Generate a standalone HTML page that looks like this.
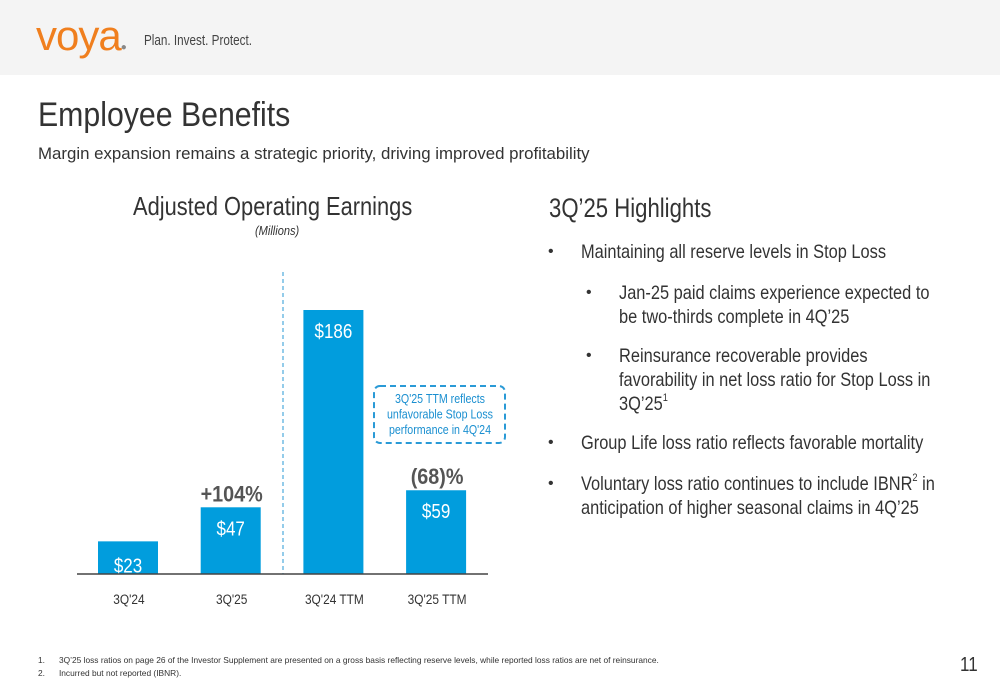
<!DOCTYPE html>
<html><head><meta charset="utf-8"><style>
body{margin:0;width:1000px;height:685px;background:#fff;font-family:"Liberation Sans",sans-serif;position:relative;overflow:hidden;color:#222}
.a{position:absolute;white-space:nowrap;transform-origin:0 0}
.hdr{position:absolute;left:0;top:0;width:1000px;height:75px;background:#f4f4f4}
.b{position:absolute;font-size:19.5px;line-height:24px;color:#333;white-space:nowrap;transform:scaleX(.84);transform-origin:0 0}
.d{position:absolute;font-size:16px;color:#333}
sup{font-size:11px;line-height:0;position:relative;top:-2px}
</style></head><body>
<div class="hdr"></div>
<div class="a" style="left:36px;top:12px;font-size:42px;color:#f07f1e;letter-spacing:-1px">voya<span style="font-size:10px;color:#888">●</span></div>
<div class="a" style="left:144px;top:32px;font-size:15px;color:#444;transform:scaleX(.78)">Plan. Invest. Protect.</div>
<div class="a" style="left:38px;top:96px;font-size:34px;color:#333;transform:scaleX(.89)">Employee Benefits</div>
<div class="a" style="left:38px;top:144px;font-size:17px;color:#333;transform:scaleX(.99)">Margin expansion remains a strategic priority, driving improved profitability</div>
<div class="a" style="left:133px;top:191px;font-size:26px;color:#333;transform:scaleX(.84)">Adjusted Operating Earnings</div>
<div class="a" style="left:255px;top:223px;font-size:13px;font-style:italic;color:#333;transform:scaleX(.85)">(Millions)</div>
<svg id="chart" class="a" style="left:0;top:0" width="520" height="620"></svg>
<div class="a" style="left:549px;top:193px;font-size:27px;color:#333;transform:scaleX(.82)">3Q’25 Highlights</div>
<div class="d" style="left:548px;top:243px">•</div>
<div class="d" style="left:586px;top:284px">•</div>
<div class="d" style="left:586px;top:347px">•</div>
<div class="d" style="left:548px;top:434px">•</div>
<div class="d" style="left:548px;top:475px">•</div>
<div class="b" style="left:581px;top:240px">Maintaining all reserve levels in Stop Loss</div>
<div class="b" style="left:619px;top:281px">Jan-25 paid claims experience expected to<br>be two-thirds complete in 4Q’25</div>
<div class="b" style="left:619px;top:344px">Reinsurance recoverable provides<br>favorability in net loss ratio for Stop Loss in<br>3Q’25<sup>1</sup></div>
<div class="b" style="left:581px;top:431px">Group Life loss ratio reflects favorable mortality</div>
<div class="b" style="left:581px;top:472px">Voluntary loss ratio continues to include IBNR<sup>2</sup> in<br>anticipation of higher seasonal claims in 4Q’25</div>
<div class="a" style="left:38px;top:655px;font-size:8.5px;color:#333;transform:scaleX(.985)">1.&nbsp;&nbsp;&nbsp;&nbsp;&nbsp;&nbsp;3Q’25 loss ratios on page 26 of the Investor Supplement are presented on a gross basis reflecting reserve levels, while reported loss ratios are net of reinsurance.</div>
<div class="a" style="left:38px;top:668px;font-size:8.5px;color:#333;transform:scaleX(.985)">2.&nbsp;&nbsp;&nbsp;&nbsp;&nbsp;&nbsp;Incurred but not reported (IBNR).</div>
<div class="a" style="left:960px;top:654px;font-size:20px;color:#333;transform:scaleX(.85)">11</div>
<script>
const categories=["3Q'24","3Q'25","3Q'24 TTM","3Q'25 TTM"];
const values=[23,47,186,59];
const valueLabels=["$23","$47","$186","$59"];
const changeLabels=["","+104%","","(68)%"];
const svg=document.getElementById('chart');
const NS='http://www.w3.org/2000/svg';
const base=574,scale=264/186;
const x=i=>98+i*102.7;
const y=v=>base-v*scale;
function mk(t,a){const e=document.createElementNS(NS,t);for(const k in a)e.setAttribute(k,a[k]);svg.appendChild(e);return e;}
function txt(s,cx,cy,a,sx){const t=mk('text',Object.assign({x:cx/sx,y:cy,'text-anchor':'middle','font-family':'Liberation Sans',transform:'scale('+sx+',1)'},a));t.textContent=s;return t;}
const sep=mk('line',{x1:283,y1:272,x2:283,y2:574,stroke:'#2a9ad6','stroke-dasharray':'4,3','stroke-width':1});

values.forEach((v,i)=>{
 const r=mk('rect',{x:x(i),y:y(v),width:60,height:base-y(v),fill:'#019ddd'});
 
 const ty=i==0?y(v)+31:y(v)+28;
 const t=txt(valueLabels[i],x(i)+30,ty,{'font-size':20,fill:'#fff'},.85);
 
 const c=txt(categories[i],x(i)+31,604,{'font-size':14,fill:'#333'},.85);
 
 if(changeLabels[i]){const p=txt(changeLabels[i],x(i)+31,y(v)-6,{'font-size':22,'font-weight':'bold',fill:'#555'},.9);
 }
});
const ax=mk('line',{x1:77,y1:574,x2:488,y2:574,stroke:'#444','stroke-width':1.5});

const box=mk('rect',{x:374,y:386,width:131,height:57,rx:6,fill:'none',stroke:'#2a9ad6','stroke-width':2,'stroke-dasharray':'6,4'});

["3Q'25 TTM reflects","unfavorable Stop Loss","performance in 4Q'24"].forEach((s,k)=>{
 const t=txt(s,440,403+k*15.5,{'font-size':13,fill:'#1a8fd0'},.82);
 
});
</script>
</body></html>
